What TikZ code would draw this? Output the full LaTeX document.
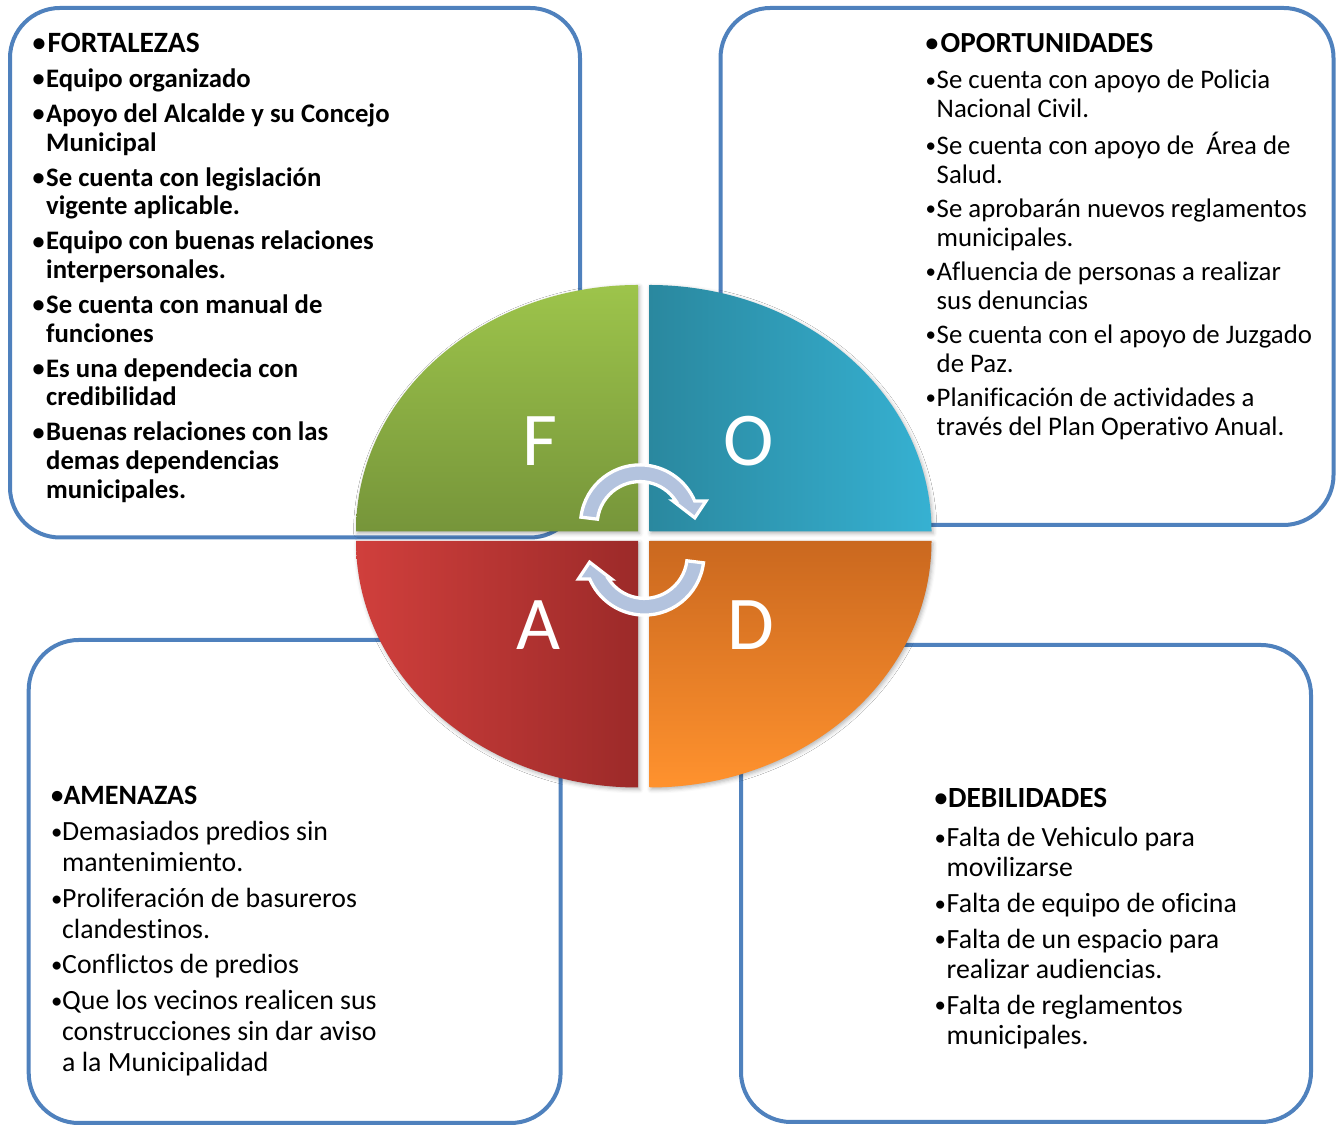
\documentclass[tikz,border=0pt]{standalone}
\usepackage{fontspec}
\usepackage{graphicx}
\setmainfont{Carlito}[Ligatures=NoCommon]
\usetikzlibrary{shadows.blur}
\definecolor{boxblue}{HTML}{4F81BD}
\definecolor{fTop}{HTML}{9DC44B}
\definecolor{fBot}{HTML}{76953A}
\definecolor{oLeft}{HTML}{2A889F}
\definecolor{oRight}{HTML}{36B1D2}
\definecolor{aLeft}{HTML}{D03F3C}
\definecolor{aRight}{HTML}{9C2A29}
\definecolor{dTop}{HTML}{CA681F}
\definecolor{dBot}{HTML}{FF922E}
\definecolor{arrowfill}{HTML}{B3C3DE}
\tikzset{
  swotbox/.style={draw=boxblue, line width=4pt, rounded corners=50pt, fill=white},
  quadshadow/.style={blur shadow={shadow xshift=1.5pt, shadow yshift=-2pt, shadow blur radius=4pt, shadow opacity=30}},
  letter/.style={text=white, font=\fontsize{76}{76}\selectfont, anchor=base, inner sep=0pt},
  cyclearrow/.style={fill=arrowfill, draw=white, line width=3.3pt, line join=miter},
  listtext/.style={anchor=base west, inner sep=0pt, align=left},
}
\newlength\bw
\newcommand\bs{0.75}
\newcommand\sdotof[1]{\raisebox{0.29em}{\scalebox{#1}{\raisebox{-0.29em}{•}}}}
\newcommand\bi[1]{\makebox[\bw][l]{\sdotof{\bs}}#1}
\newcommand\ci[1]{\hspace*{\bw}#1}
\newcommand\hd[3]{{\fontsize{#2}{#2}\selectfont\bfseries\makebox[#1][l]{\sdotof{0.88}}#3}}
\newcommand\arrowpath{(580.94,608.85) arc[start angle=173, end angle=23.2, radius=59.5pt] -- (706,625) -- (694.8,608.2) -- (673,625) -- (675.85,624.97) arc[start angle=33.1, end angle=173, radius=42.8pt] -- cycle}
\begin{document}
\begin{tikzpicture}[x=1pt,y=1pt]
\useasboundingbox (0,0) rectangle (1343,1126);
% boxes
\draw[swotbox] (10,588.5) rectangle (580,1118);
\draw[swotbox] (720.5,601) rectangle (1333.5,1118);
\draw[swotbox] (28.7,3) rectangle (560.6,486);
\draw[swotbox] (741,4) rectangle (1311,481);
% quadrants
\shade[quadshadow, top color=fTop, bottom color=fBot] (638,594.5) -- (356,594.5) arc[start angle=180, end angle=90, x radius=282pt, y radius=246.5pt] -- cycle;
\shade[quadshadow, left color=oLeft, right color=oRight] (649.5,594.5) -- (649.5,841) arc[start angle=90, end angle=0, x radius=282pt, y radius=246.5pt] -- cycle;
\shade[quadshadow, left color=aLeft, right color=aRight] (638,585) -- (356,585) arc[start angle=180, end angle=270, x radius=282pt, y radius=246.5pt] -- cycle;
\shade[quadshadow, top color=dTop, bottom color=dBot] (649.5,585) -- (931.5,585) arc[start angle=0, end angle=-90, x radius=282pt, y radius=246.5pt] -- cycle;
% letters
\node[letter] (lf) at (540,660) {F};
\node[letter] (lo) at (749,660) {O};
\node[letter] (la) at (538,476) {A};
\node[letter] (ld) at (751,476) {D};
% cycle arrows
\filldraw[cyclearrow] \arrowpath;
\begin{scope}[rotate around={180:(642.2,586)}]
\filldraw[cyclearrow] \arrowpath;
\end{scope}
% texts
\node[listtext] (ftxt) at (32.5,1073) {\fontsize{26.7}{28.7}\selectfont\bfseries\setlength\bw{13.5pt}\renewcommand\bs{0.9}%
\begin{tabular}[t]{@{}l@{}}
\hd{14.8pt}{29.5}{FORTALEZAS}\\[5.8pt]
\bi{Equipo organizado}\\[6.3pt]
\bi{Apoyo del Alcalde y su Concejo}\\
\ci{Municipal}\\[6.3pt]
\bi{Se cuenta con legislación}\\
\ci{vigente aplicable.}\\[6.3pt]
\bi{Equipo con buenas relaciones}\\
\ci{interpersonales.}\\[6.3pt]
\bi{Se cuenta con manual de}\\
\ci{funciones}\\[6.3pt]
\bi{Es una dependecia con}\\
\ci{credibilidad}\\[6.3pt]
\bi{Buenas relaciones con las}\\
\ci{demas dependencias}\\
\ci{municipales.}
\end{tabular}};
\node[listtext] (otxt) at (925.5,1073) {\fontsize{26.8}{29}\selectfont\setlength\bw{11pt}\renewcommand\bs{0.78}%
\begin{tabular}[t]{@{}l@{}}
\hd{15pt}{29.1}{OPORTUNIDADES}\\[7pt]
\bi{Se cuenta con apoyo de Policia}\\
\ci{Nacional Civil.}\\[5.1pt]
\bi{Se cuenta con apoyo de\ \ Área de}\\
\ci{Salud.}\\[5.1pt]
\bi{Se aprobarán nuevos reglamentos}\\
\ci{municipales.}\\[5.1pt]
\bi{Afluencia de personas a realizar}\\
\ci{sus denuncias}\\[5.1pt]
\bi{Se cuenta con el apoyo de Juzgado}\\
\ci{de Paz.}\\[5.1pt]
\bi{Planificación de actividades a}\\
\ci{través del Plan Operativo Anual.}
\end{tabular}};
\node[listtext] (atxt) at (51,321.3) {\fontsize{27.8}{30.8}\selectfont\setlength\bw{11pt}\renewcommand\bs{0.82}%
\begin{tabular}[t]{@{}l@{}}
\hd{12.3pt}{28}{AMENAZAS}\\[5.5pt]
\bi{Demasiados predios sin}\\
\ci{mantenimiento.}\\[4.9pt]
\bi{Proliferación de basureros}\\
\ci{clandestinos.}\\[4.9pt]
\bi{Conflictos de predios}\\[4.9pt]
\bi{Que los vecinos realicen sus}\\
\ci{construcciones sin dar aviso}\\
\ci{a la Municipalidad}
\end{tabular}};
\node[listtext] (dtxt) at (934.5,318) {\fontsize{27.8}{30.2}\selectfont\setlength\bw{12pt}\renewcommand\bs{0.82}%
\begin{tabular}[t]{@{}l@{}}
\hd{13.5pt}{29.3}{DEBILIDADES}\\[8.4pt]
\bi{Falta de Vehiculo para}\\
\ci{movilizarse}\\[5.6pt]
\bi{Falta de equipo de oficina}\\[5.6pt]
\bi{Falta de un espacio para}\\
\ci{realizar audiencias.}\\[5.6pt]
\bi{Falta de reglamentos}\\
\ci{municipales.}
\end{tabular}};
\end{tikzpicture}
\end{document}
